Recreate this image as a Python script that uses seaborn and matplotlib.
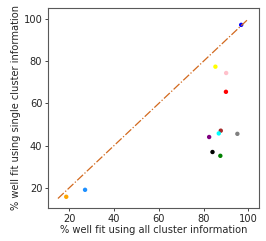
import numpy as np
import pandas as pd
import seaborn as sns
import matplotlib
matplotlib.use('Agg')
import matplotlib.pyplot as plt

# % well fit, all cluster info (x) vs single cluster info (y)
all_fit = [96.8, 85.3, 90.1, 90.0, 87.7, 86.8, 82.5, 95.1, 84.0, 87.5, 18.7, 27.1]
single_fit = [97.2, 77.4, 74.4, 65.5, 47.1, 45.8, 44.1, 45.6, 37.0, 35.2, 15.8, 19.1]
colours = ['blue', 'yellow', 'pink', 'red', 'brown', 'cyan', 'purple', 'gray',
           'black', 'green', 'orange', 'dodgerblue']
diag = [15, 100]

sns.set_style('ticks')
plt.rcParams['font.family'] = ['DejaVu Sans']
fs = 7.1

df = pd.DataFrame({'all': all_fit, 'single': single_fit, 'c': colours})

fig = plt.figure(figsize=(2.66, 2.41), dpi=100)
ax = fig.add_axes([0.18, 0.137, 0.794, 0.83])
sns.lineplot(x=diag, y=diag, ax=ax, color='chocolate', linestyle='-.', linewidth=0.9)
sns.scatterplot(data=df, x='all', y='single', hue='c', palette=dict(zip(colours, colours)),
                s=10, linewidth=0, legend=False, ax=ax)
ax.set_xlim(10.5, 104.8)
ax.set_ylim(10.5, 105.2)
ax.set_xticks([20, 40, 60, 80, 100])
ax.set_yticks([20, 40, 60, 80, 100])
ax.tick_params(labelsize=fs, length=2.5, width=0.6, pad=1.5)
for s in ax.spines.values():
    s.set_linewidth(0.8)
    s.set_color('0.35')
ax.set_xlabel('% well fit using all cluster information', fontsize=fs, labelpad=1)
ax.set_ylabel('% well fit using single cluster information', fontsize=fs, labelpad=1.5)
fig.savefig('out.png', dpi=100)
